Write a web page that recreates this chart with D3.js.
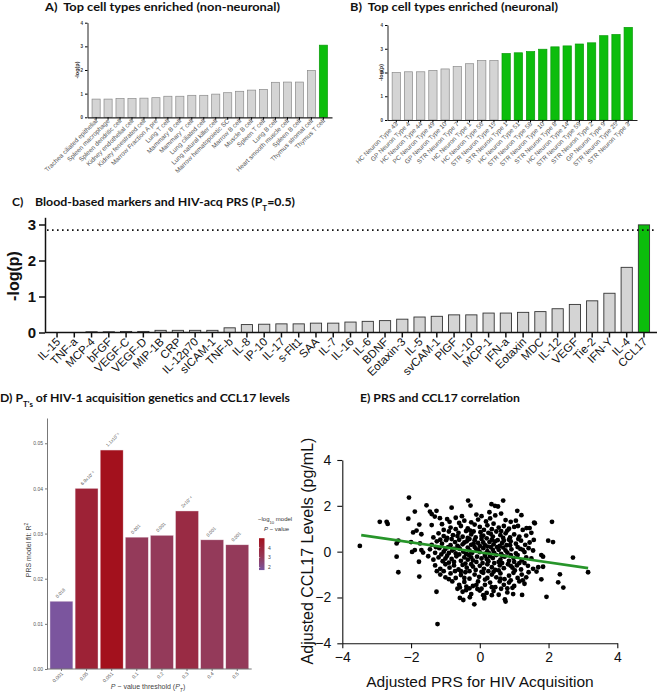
<!DOCTYPE html>
<html><head><meta charset="utf-8">
<script src="https://cdn.jsdelivr.net/npm/d3@7"></script>
<style>body{margin:0;background:#fff}svg{display:block}text{white-space:pre}</style>
</head><body>
<svg id="c" width="657" height="694"></svg>
<script>
// ---------- DATA ----------
const cellTypesA = ["Trachea ciliated epithelial","Spleen macrophage","Spleen dendritic cell","Kidney endothelial cell","Kidney fenestrated cell","Marrow Fraction A pre","Lung T cell","Mammary B cell","Mammary T cell","Lung ciliated cell","Lung natural killer cell","Marrow hematopoietic SC","Marrow B cell","Muscle B cell","Spleen T cell","Lung B cell","Heart smooth muscle cell","Spleen B cell","Thymus stromal cell","Thymus T cell"];
const valuesA = [0.77,0.77,0.79,0.79,0.81,0.83,0.89,0.89,0.93,0.93,0.98,1.04,1.10,1.15,1.18,1.48,1.49,1.49,1.98,3.05];

const cellTypesB = ["HC Neuron Type 43","GP Neuron Type 4","HC Neuron Type 44","PC Neuron Type 49","GP Neuron Type 10","STR Neuron Type 7","HC Neuron Type 1","HC Neuron Type 56","STR Neuron Type 15","STR Neuron Type 1","HC Neuron Type 51","STR Neuron Type 58","STR Neuron Type 10","STR Neuron Type 8","HC Neuron Type 14","STR Neuron Type 59","STR Neuron Type 2","GP Neuron Type 9","STR Neuron Type 25","STR Neuron Type 3"];
const valuesB = [2.00,2.03,2.03,2.09,2.15,2.25,2.37,2.50,2.50,2.80,2.83,2.88,2.98,3.08,3.12,3.20,3.25,3.55,3.60,3.90];
const sigThresholdAB = 2.7;

const markersC = ["IL-15","TNF-a","MCP-4","bFGF","VEGF-C","VEGF-D","MIP-1B","CRP","IL-12p70","sICAM-1","TNF-b","IL-8","IP-10","IL-17","s-Flt1","SAA","IL-7","IL-16","IL-6","BDNF","Eotaxin-3","IL-5","svCAM-1","PlGF","IL-10","MCP-1","IFN-a","Eotaxin","MDC","IL-12","VEGF","Tie-2","IFN-Y","IL-4","CCL17"];
const valuesC = [0,0,0.02,0.02,0.03,0.03,0.06,0.06,0.06,0.06,0.13,0.22,0.23,0.24,0.24,0.26,0.26,0.29,0.31,0.33,0.37,0.43,0.45,0.49,0.49,0.54,0.54,0.56,0.58,0.66,0.78,0.88,1.09,1.81,2.99];
const thresholdC = 2.845;
const ticksC = [0,1,2,3];

const thresholdsD = ["0.001","0.05","0.051","0.1","0.2","0.3","0.4","0.5"];
const r2D = [0.0150,0.0400,0.0485,0.0292,0.0296,0.0350,0.0286,0.0275];
const pLabelsD = ["0.018","6.9x10⁻⁵","1.1x10⁻⁵","0.001","0.001","2x10⁻⁴","0.001","0.001"];
const negLogPD = [1.74,4.16,4.96,3.0,3.0,3.70,3.0,3.0];
const ticksD = [0,0.01,0.02,0.03,0.04,0.05];
const legendTicksD = [2,3,4];

const ticksE = [-4,-2,0,2,4];
const fitX = [-3.45, 3.15];
const fitY = [0.72, -0.72];
const scatterE = [
[-3.49,0.25],[-2.91,1.30],[-2.71,1.30],[-2.68,1.21],[-2.42,0.36],[-2.37,0.48],[-2.42,-0.22],[-2.37,-0.90],
[-2.06,2.36],[-2.08,1.44],[-2.00,0.42],[-1.97,-0.01],[-1.89,0.07],[-1.89,1.75],[-1.94,0.84],[-1.84,0.92],
[-1.76,1.18],[-1.74,0.36],[-1.77,-0.44],[-1.76,-1.09],[-1.70,0.07],[-1.65,-0.04],[-1.70,0.76],[-1.55,2.02],
[-1.45,1.75],[-1.40,1.64],[-1.31,1.53],[-1.26,1.78],[-1.40,1.16],[-1.26,-1.75],[-1.23,-3.16],[-1.16,1.46],
[-0.82,1.92],[-0.34,2.23],[-0.27,2.01],[0.34,2.07],[0.44,2.00],[0.53,1.97],[0.68,2.23],[1.09,1.78],
[1.21,1.59],[1.11,1.12],[1.36,1.03],[1.45,1.03],[1.58,1.27],[1.60,1.24],[2.10,1.30],[1.99,0.48],
[2.13,0.42],[1.57,0.51],[1.79,-0.15],[1.84,-0.22],[2.71,-0.26],[2.33,-0.99],[2.28,-1.34],[2.43,-1.57],
[1.94,-1.97],[1.79,-1.21],[1.70,-0.68],[1.84,-0.66],[1.65,-0.87],[3.15,-0.90],[1.23,-1.89],[0.97,-1.85],
[0.73,-2.08],[0.75,-2.18],[-0.16,-2.30],[0.13,-2.04],[0.13,-1.97],[-0.58,-2.02],[-0.48,-2.11],[-0.29,-1.99],
[-0.07,-1.63],[-0.39,-1.53],[-0.58,-1.56],
[-0.95,1.42],[-0.70,1.48],[-0.45,1.35],[-0.10,1.62],[0.05,1.55],[0.30,1.45],[0.62,1.66],[0.75,1.38],
[-0.25,1.28],[0.18,1.32],[0.90,1.30],[-0.60,1.25],
[-1.10,1.20],[-0.85,1.05],[-0.55,1.12],[-0.35,1.02],[-0.15,1.18],[0.00,1.08],[0.22,1.15],[0.40,1.22],
[0.55,1.05],[0.70,1.12],[0.85,1.00],[1.00,1.08],[-0.70,0.98],[0.12,0.95],[0.35,0.98],[-0.28,0.92],
[1.25,0.95],[0.62,0.90],
[-1.20,0.80],[-1.05,0.68],[-0.90,0.88],[-0.78,0.72],[-0.62,0.82],[-0.50,0.65],[-0.40,0.90],[-0.25,0.75],
[-0.12,0.62],[0.02,0.85],[0.10,0.70],[0.25,0.82],[0.38,0.66],[0.48,0.88],[0.60,0.72],[0.75,0.80],
[0.88,0.62],[1.00,0.75],[1.15,0.66],[1.35,0.70],[1.50,0.82],[-0.35,0.60],[0.20,0.58],[0.68,0.60],
[-0.95,0.60],[-1.35,0.62],
[-1.40,0.30],[-1.25,0.45],[-1.10,0.35],[-0.98,0.50],[-0.85,0.28],[-0.72,0.42],[-0.60,0.52],[-0.50,0.32],
[-0.38,0.45],[-0.25,0.30],[-0.15,0.50],[-0.05,0.38],[0.05,0.55],[0.15,0.28],[0.28,0.42],[0.40,0.32],
[0.52,0.50],[0.65,0.38],[0.78,0.28],[0.90,0.45],[1.05,0.35],[1.20,0.48],[1.32,0.30],[1.45,0.40],
[-0.82,0.55],[-0.30,0.55],[0.35,0.52],[0.85,0.52],[-0.65,0.25],[0.00,0.25],[0.58,0.25],[-1.15,0.52],
[-0.45,0.40],[0.45,0.45],[0.10,0.40],
[-1.45,0.10],[-1.30,-0.05],[-1.18,0.15],[-1.05,0.00],[-0.92,0.20],[-0.80,0.05],[-0.70,-0.08],[-0.58,0.12],
[-0.48,0.00],[-0.35,0.18],[-0.22,-0.05],[-0.10,0.10],[0.00,-0.02],[0.10,0.15],[0.22,0.02],[0.32,0.20],
[0.42,-0.06],[0.55,0.08],[0.68,0.18],[0.80,-0.04],[0.92,0.10],[1.05,-0.08],[1.18,0.12],[1.30,-0.02],
[1.42,0.15],[1.55,0.05],[-0.90,-0.06],[-0.30,0.05],[0.28,-0.08],[0.75,0.05],[-0.62,0.20],[0.50,0.20],
[-0.15,0.20],[1.10,0.20],[-1.00,0.12],[-0.40,-0.10],[0.15,-0.10],[0.62,-0.10],
[-1.50,-0.20],[-1.35,-0.35],[-1.20,-0.25],[-1.08,-0.42],[-0.95,-0.18],[-0.82,-0.32],[-0.68,-0.20],[-0.55,-0.40],
[-0.45,-0.25],[-0.32,-0.15],[-0.20,-0.38],[-0.08,-0.22],[0.05,-0.30],[0.15,-0.18],[0.25,-0.42],[0.38,-0.28],
[0.48,-0.15],[0.60,-0.35],[0.72,-0.22],[0.85,-0.40],[0.98,-0.28],[1.10,-0.15],[1.22,-0.38],[1.35,-0.25],
[1.50,-0.30],[-0.75,-0.45],[-0.10,-0.45],[0.55,-0.45],[1.00,-0.45],[-0.35,-0.35],[0.30,-0.20],[-1.00,-0.30],
[0.90,-0.15],[-0.60,-0.12],
[-1.30,-0.60],[-1.15,-0.75],[-1.00,-0.55],[-0.88,-0.70],[-0.75,-0.60],[-0.62,-0.78],[-0.50,-0.58],[-0.38,-0.70],
[-0.25,-0.55],[-0.12,-0.80],[0.00,-0.62],[0.12,-0.75],[0.22,-0.55],[0.35,-0.68],[0.45,-0.80],[0.58,-0.60],
[0.70,-0.72],[0.82,-0.55],[0.95,-0.70],[1.08,-0.60],[1.20,-0.78],[1.40,-0.62],[1.55,-0.75],[-0.55,-0.85],
[0.25,-0.85],[0.65,-0.50],[-0.20,-0.65],[1.30,-0.50],
[-1.15,-1.00],[-1.00,-1.12],[-0.85,-0.95],[-0.70,-1.15],[-0.55,-1.02],[-0.42,-0.90],[-0.30,-1.18],[-0.15,-1.00],
[-0.02,-1.10],[0.10,-0.92],[0.22,-1.15],[0.35,-1.00],[0.48,-1.12],[0.60,-0.95],[0.72,-1.20],[0.85,-1.05],
[0.98,-0.92],[1.10,-1.15],[1.22,-1.00],[1.35,-1.12],[-0.90,-1.20],[0.40,-0.88],[0.90,-1.25],
[-0.80,-1.30],[-0.60,-1.45],[-0.45,-1.32],[-0.20,-1.50],[-0.05,-1.30],[0.15,-1.45],[0.30,-1.35],[0.45,-1.55],
[0.58,-1.30],[0.70,-1.45],[0.85,-1.35],[1.00,-1.50],[1.15,-1.30],[1.30,-1.40],[-0.30,-1.60],[0.05,-1.62],
[0.62,-1.62],[0.95,-1.58],
[-0.50,-1.75],[-0.25,-1.85],[0.00,-1.70],[0.20,-1.80],[0.40,-1.72],[0.55,-1.88],[0.80,-1.78],[0.35,-1.90],
[-0.40,-1.68],[0.10,-1.90],
[-0.05,1.40],[0.45,1.58],[-0.52,1.55],[0.28,1.72],[-0.88,1.30],[1.05,1.35],[-1.05,0.95],[-0.18,0.88],
[0.32,0.78],[0.80,0.92],[-0.65,0.68],[0.05,0.68],[-1.28,0.20],[-0.18,0.35],[0.22,0.22],[0.70,0.48],
[1.12,0.55],[-0.75,0.12],[-0.05,0.08],[0.38,0.08],[0.88,0.28],[1.25,0.08],[-1.12,-0.12],[-0.25,-0.25],
[0.20,-0.32],[0.65,-0.18],[1.15,-0.50],[-0.90,-0.48],[-0.42,-0.52],[0.08,-0.50],[0.42,-0.50],[0.90,-0.62],
[-0.72,-0.85],[-0.30,-0.85],[0.05,-0.88],[0.55,-0.82],[1.02,-0.82],[-1.05,-0.85],[-0.45,-1.15],[0.15,-1.22],
[0.60,-1.18],[1.25,-1.25],[-0.65,-1.62],[-0.10,-1.45],[0.35,-1.55],[0.80,-1.60],[1.42,-0.90],[-1.25,-0.85]
];

// ---------- STYLE ----------
const AF = "'Liberation Sans', Arial, sans-serif";
const TF = "Lato, 'Open Sans', sans-serif";
const GREEN = "#0cbd0c", GREY = "#d4d4d4";
const svg = d3.select("#c");

function title(x, y, w, size, parts) {
  const t = svg.append("text").attr("x", x).attr("y", y).attr("font-family", TF)
    .attr("font-weight", 700).attr("font-size", size).attr("fill", "#111");
  if (w) t.attr("textLength", w).attr("lengthAdjust", "spacingAndGlyphs");
  parts.forEach(p => {
    const s = t.append("tspan").text(p.t);
    if (p.sub) s.attr("baseline-shift", "sub").attr("font-size", size * 0.65);
  });
  return t;
}

// ---------- PANEL A / B ----------
function cellPanel(cats, vals, x0, x1, y0, y1, labelY, ylabX) {
  const x = d3.scaleBand().domain(cats).range([x0, x1]).paddingInner(0.32).paddingOuter(0.38);
  const y = d3.scaleLinear().domain([0, 4]).range([y0, y1]);
  const g = svg.append("g");
  g.selectAll("rect").data(cats).join("rect")
    .attr("x", d => x(d)).attr("width", x.bandwidth())
    .attr("y", (d, i) => y(vals[i])).attr("height", (d, i) => y(0) - y(vals[i]))
    .attr("fill", (d, i) => vals[i] > sigThresholdAB ? GREEN : GREY)
    .attr("stroke", (d, i) => vals[i] > sigThresholdAB ? "#089a08" : "#8a8a8a").attr("stroke-width", 0.7);
  const ya = g.append("g").attr("transform", `translate(${x0},0)`)
    .call(d3.axisLeft(y).ticks(4).tickFormat(d3.format("d")).tickSize(2.5).tickSizeOuter(0).tickPadding(2));
  ya.selectAll("text").attr("font-size", 4.5).attr("font-weight", 700).attr("font-family", AF).attr("fill", "#333");
  ya.select(".domain").attr("stroke", "#222").attr("stroke-width", 1);
  const xa = g.append("g").attr("transform", `translate(0,${y0})`)
    .call(d3.axisBottom(x).tickSize(2.5).tickSizeOuter(0).tickFormat(""));
  xa.select(".domain").attr("stroke", "#222").attr("stroke-width", 1.2);
  g.selectAll(".lbl").data(cats).join("text")
    .attr("transform", d => `translate(${x(d) + x.bandwidth() / 2 + 2},${labelY}) rotate(-45)`)
    .attr("text-anchor", "end").attr("font-family", AF).attr("font-size", 6.4).attr("fill", "#555").text(d => d);
  g.append("text").attr("transform", `translate(${ylabX},${(y0 + y1) / 2}) rotate(-90)`)
    .attr("text-anchor", "middle").attr("font-family", AF).attr("font-weight", 700)
    .attr("font-size", 5.5).attr("fill", "#333").text("-log(p)");
}
cellPanel(cellTypesA, valuesA, 87.5, 332, 117.3, 22.7, 121.5, 78.5);
cellPanel(cellTypesB, valuesB, 387.5, 637, 120, 25, 124.5, 383);
title(45, 11, 235, 11, [{t: "A)  Top cell types enriched (non-neuronal)"}]);
title(350, 11, 208, 11, [{t: "B)  Top cell types enriched (neuronal)"}]);

// ---------- PANEL C ----------
{
  const x = d3.scaleBand().domain(markersC).range([48.4, 652.6]).paddingInner(0.35).paddingOuter(0.175);
  const y = d3.scaleLinear().domain([0, 3.2]).range([332.5, 217.3]);
  const g = svg.append("g");
  g.selectAll("rect").data(markersC).join("rect")
    .attr("x", d => x(d)).attr("width", x.bandwidth())
    .attr("y", (d, i) => y(valuesC[i])).attr("height", (d, i) => y(0) - y(valuesC[i]))
    .attr("fill", (d, i) => valuesC[i] > thresholdC ? GREEN : GREY)
    .attr("stroke", "#333").attr("stroke-width", 0.9);
  g.append("line").attr("x1", 47).attr("x2", 657).attr("y1", y(thresholdC)).attr("y2", y(thresholdC))
    .attr("stroke", "#111").attr("stroke-width", 1.6).attr("stroke-dasharray", "1.6,3.4");
  const ya = g.append("g").attr("transform", "translate(45,0)")
    .call(d3.axisLeft(y).tickValues(ticksC).tickFormat(d3.format("d")).tickSize(6).tickSizeOuter(0).tickPadding(3));
  ya.selectAll("text").attr("font-size", 15).attr("font-weight", 700).attr("font-family", AF).attr("fill", "#111");
  ya.selectAll("line,path").attr("stroke", "#111").attr("stroke-width", 1.5);
  const xa = g.append("g").attr("transform", `translate(0,${y(0)})`)
    .call(d3.axisBottom(x).tickSize(5).tickSizeOuter(0).tickFormat(""));
  xa.select(".domain").attr("d", `M45,0H657`);
  xa.selectAll("line,path").attr("stroke", "#111").attr("stroke-width", 1.5);
  g.selectAll(".lbl").data(markersC).join("text")
    .attr("transform", d => `translate(${x(d) + x.bandwidth() / 2 + 4},${y(0) + 10}) rotate(-45)`)
    .attr("text-anchor", "end").attr("font-family", AF).attr("font-size", 11.5).attr("fill", "#111").text(d => d);
  g.append("text").attr("transform", `translate(19,${276}) rotate(-90)`)
    .attr("text-anchor", "middle").attr("font-family", AF).attr("font-weight", 700)
    .attr("font-size", 16).attr("fill", "#111").text("-log(p)");
  title(12, 206, null, 12, [{t: "C)"}]);
  title(35, 206, 260, 12, [{t: "Blood-based markers and HIV-acq PRS (P"}, {t: "T", sub: true}, {t: "=0.5)"}]);
}

// ---------- PANEL D ----------
{
  const x = d3.scaleBand().domain(thresholdsD).range([47, 251.7]).paddingInner(0.09).paddingOuter(0.12);
  const y = d3.scaleLinear().domain([0, 0.0556]).range([669, 418]);
  const ext = d3.extent(negLogPD);
  const col = d3.scaleLinear().domain([ext[0], 3.0, ext[1]]).range(["#7b559e", "#943a5a", "#a3111d"]);
  const g = svg.append("g");
  g.selectAll("rect").data(thresholdsD).join("rect")
    .attr("x", d => x(d)).attr("width", x.bandwidth())
    .attr("y", (d, i) => y(r2D[i])).attr("height", (d, i) => y(0) - y(r2D[i]))
    .attr("fill", (d, i) => col(negLogPD[i])).attr("stroke", "#e8d8e0").attr("stroke-width", 0.4);
  g.selectAll(".pl").data(thresholdsD).join("text")
    .attr("transform", (d, i) => `translate(${x(d) + x.bandwidth() / 2 - 4},${y(r2D[i]) - 3}) rotate(-45)`)
    .attr("font-family", AF).attr("font-size", 4.6).attr("fill", "#555").text((d, i) => pLabelsD[i]);
  const ya = g.append("g").attr("transform", "translate(47,0)")
    .call(d3.axisLeft(y).tickValues(ticksD).tickFormat(d3.format(".2f")).tickSize(2).tickSizeOuter(0).tickPadding(2));
  ya.selectAll("text").attr("font-size", 5).attr("font-family", AF).attr("fill", "#555");
  ya.selectAll("line,path").attr("stroke", "#555").attr("stroke-width", 0.8);
  const xa = g.append("g").attr("transform", "translate(0,669)")
    .call(d3.axisBottom(x).tickSize(2).tickSizeOuter(0).tickFormat(""));
  xa.select(".domain").attr("d", "M47,0H251.7");
  xa.selectAll("line,path").attr("stroke", "#555").attr("stroke-width", 0.8);
  g.selectAll(".xl").data(thresholdsD).join("text")
    .attr("transform", d => `translate(${x(d) + x.bandwidth() / 2 + 2},${674}) rotate(-45)`)
    .attr("text-anchor", "end").attr("font-family", AF).attr("font-size", 5).attr("fill", "#555").text(d => d);
  const yl = g.append("text").attr("transform", "translate(31,550) rotate(-90)")
    .attr("text-anchor", "middle").attr("font-family", AF).attr("font-size", 7).attr("fill", "#444");
  yl.append("tspan").text("PRS model fit: R");
  yl.append("tspan").attr("baseline-shift", "super").attr("font-size", 5).text("2");
  const xl = g.append("text").attr("x", 148).attr("y", 689).attr("text-anchor", "middle")
    .attr("font-family", AF).attr("font-size", 7).attr("fill", "#444");
  xl.append("tspan").attr("font-style", "italic").text("P");
  xl.append("tspan").text(" − value threshold (");
  xl.append("tspan").attr("font-style", "italic").text("P");
  xl.append("tspan").attr("font-style", "italic").attr("baseline-shift", "sub").attr("font-size", 5).text("T");
  xl.append("tspan").text(")");
  // legend
  const lg = svg.append("g");
  const lt = lg.append("text").attr("x", 258).attr("y", 521).attr("font-family", AF).attr("font-size", 6).attr("fill", "#333");
  lt.append("tspan").text("−log");
  lt.append("tspan").attr("baseline-shift", "sub").attr("font-size", 4.2).text("10");
  lt.append("tspan").text(" model");
  const lt2 = lg.append("text").attr("x", 264).attr("y", 531).attr("font-family", AF).attr("font-size", 6).attr("fill", "#333");
  lt2.append("tspan").attr("font-style", "italic").text("P");
  lt2.append("tspan").text(" − value");
  const ly = d3.scaleLinear().domain([2, 4]).range([567.5, 547.7]);
  const defs = svg.append("defs");
  const grad = defs.append("linearGradient").attr("id", "lgD").attr("x1", 0).attr("x2", 0).attr("y1", 1).attr("y2", 0);
  d3.range(0, 1.0001, 0.1).forEach(t => {
    const v = ext[0] + t * (ext[1] - ext[0]);
    grad.append("stop").attr("offset", t).attr("stop-color", col(v));
  });
  lg.append("rect").attr("x", 259).attr("width", 5.5).attr("y", ly(ext[1])).attr("height", ly(ext[0]) - ly(ext[1])).attr("fill", "url(#lgD)");
  lg.selectAll(".lk").data(legendTicksD).join("text").attr("x", 268).attr("y", d => ly(d) + 1.8)
    .attr("font-family", AF).attr("font-size", 5).attr("fill", "#444").text(d => d);
  lg.selectAll(".lkl").data(legendTicksD).join("line").attr("x1", 259).attr("x2", 260.2).attr("y1", d => ly(d)).attr("y2", d => ly(d)).attr("stroke", "#fff").attr("stroke-width", 0.5);
  title(0, 402, 290, 12, [{t: "D) P"}, {t: "T's", sub: true}, {t: " of HIV-1 acquisition genetics and CCL17 levels"}]);
}

// ---------- PANEL E ----------
{
  const x = d3.scaleLinear().domain([-4, 4]).range([342.3, 617.3]);
  const y = d3.scaleLinear().domain([-4, 4]).range([643.3, 460]);
  const g = svg.append("g");
  g.selectAll("circle").data(scatterE).join("circle")
    .attr("cx", d => x(d[0])).attr("cy", d => y(d[1])).attr("r", 2.4).attr("fill", "#000");
  g.append("path").attr("d", d3.line().x(d => x(d[0])).y(d => y(d[1]))(fitX.map((v, i) => [v, fitY[i]])))
    .attr("stroke", "#27952a").attr("stroke-width", 2.6).attr("fill", "none");
  const ya = g.append("g").attr("transform", "translate(342.3,0)")
    .call(d3.axisLeft(y).tickValues(ticksE).tickSize(5).tickSizeOuter(0).tickPadding(6));
  ya.selectAll("text").attr("font-size", 14).attr("font-family", AF).attr("fill", "#111");
  ya.selectAll("line,path").attr("stroke", "#111").attr("stroke-width", 1.1);
  const xa = g.append("g").attr("transform", "translate(0,643.3)")
    .call(d3.axisBottom(x).tickValues(ticksE).tickSize(5).tickSizeOuter(0).tickPadding(4));
  xa.selectAll("text").attr("font-size", 14).attr("font-family", AF).attr("fill", "#111");
  xa.selectAll("line,path").attr("stroke", "#111").attr("stroke-width", 1.1);
  g.append("text").attr("x", 480).attr("y", 687).attr("text-anchor", "middle").attr("font-family", AF)
    .attr("font-size", 15.5).attr("fill", "#111").text("Adjusted PRS for HIV Acquisition");
  g.append("text").attr("transform", "translate(313,551) rotate(-90)").attr("text-anchor", "middle").attr("font-family", AF)
    .attr("font-size", 16).attr("fill", "#111").text("Adjusted CCL17 Levels (pg/mL)");
  title(360, 402, 160, 11.5, [{t: "E) PRS and CCL17 correlation"}]);
}
</script>
</body></html>
